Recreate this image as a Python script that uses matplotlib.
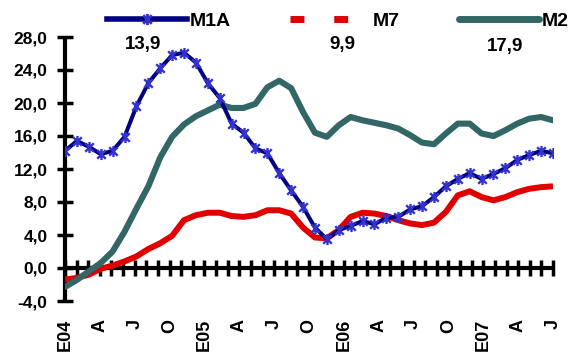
import numpy as np
import matplotlib
matplotlib.use("Agg")
import matplotlib.pyplot as plt
from matplotlib.lines import Line2D
from matplotlib.path import Path

# monthly growth rates (%), Jan 2004 - Jun 2007
m1a = [14.2, 15.4, 14.7, 13.8, 14.2, 15.9, 19.6, 22.4, 24.2, 25.8, 26.1, 24.9,
       22.4, 20.6, 17.5, 16.4, 14.5, 13.9, 11.5, 9.4, 7.4, 4.9, 3.5, 4.6,
       5.1, 5.7, 5.3, 6.1, 6.2, 7.1, 7.5, 8.6, 9.9, 10.8, 11.5, 10.8,
       11.4, 12.1, 13.1, 13.7, 14.2, 13.9]
m7 = [-1.4, -1.2, -0.8, -0.1, 0.3, 0.8, 1.4, 2.3, 3.0, 3.9, 5.8, 6.4,
      6.7, 6.7, 6.3, 6.2, 6.4, 7.0, 7.0, 6.6, 4.9, 3.7, 3.6, 4.6,
      6.2, 6.7, 6.6, 6.3, 5.8, 5.4, 5.2, 5.5, 6.8, 8.8, 9.3, 8.6,
      8.2, 8.6, 9.2, 9.6, 9.8, 9.9]
m2 = [-2.3, -1.45, -0.4, 0.6, 2.0, 4.4, 7.2, 9.9, 13.4, 15.9, 17.4, 18.4,
      19.1, 19.8, 19.4, 19.4, 19.9, 21.9, 22.7, 21.8, 18.9, 16.4, 15.9, 17.3,
      18.3, 17.9, 17.6, 17.3, 16.9, 16.1, 15.2, 15.0, 16.3, 17.5, 17.5, 16.3,
      16.0, 16.7, 17.5, 18.1, 18.3, 17.9]
series_names = ["M1A", "M7", "M2"]
month_labels = ["E04", "A", "J", "O", "E05", "A", "J", "O",
                "E06", "A", "J", "O", "E07", "A", "J"]
yticks = np.arange(-4, 29, 4)

NAVY = "#000080"
BLUE = "#3333CC"
RED = "#E00000"
TEAL = "#336666"

plt.rcParams["font.family"] = ["Liberation Sans", "DejaVu Sans"]
plt.rcParams["font.weight"] = "bold"

def comma(v):
    return f"{v:.1f}".replace(".", ",")

# excel style star marker: x with a vertical bar
star = Path([(-1, -1), (1, 1), (-1, 1), (1, -1), (0, -1.3), (0, 1.3)],
            [Path.MOVETO, Path.LINETO] * 3)

W, H = 568, 354
fig = plt.figure(figsize=(W / 100, H / 100), dpi=100)
ax = fig.add_axes([65 / W, 1 - 301 / H, (553 - 65) / W, (301 - 37) / H])

x = np.arange(len(m1a))
ax.plot(x, m7, color=RED, lw=4.3, solid_capstyle="butt", zorder=3)
ax.plot(x, m2, color=TEAL, lw=4.4, solid_capstyle="round", zorder=4)
ax.plot(x, m1a, color=NAVY, lw=2.9, marker=star, ms=8, mec=BLUE, mew=1.7, zorder=5)

ax.set_xlim(0, len(m1a) - 1)
ax.set_ylim(-4, 28)
for s in ["top", "right"]:
    ax.spines[s].set_visible(False)
ax.spines["bottom"].set_position(("data", 0))
for s in ["left", "bottom"]:
    ax.spines[s].set_linewidth(3)
    ax.spines[s].set_capstyle("butt")

ax.set_yticks(yticks)
ax.set_yticklabels([comma(v) for v in yticks])

tick_pos = np.linspace(0, len(m1a) - 1, len(m1a) + 1)
ax.set_xticks(tick_pos[::3])
ax.set_xticklabels(month_labels)
ax.set_xticks(tick_pos, minor=True)
ax.tick_params(axis="both", which="both", direction="inout", length=11, width=2.5)
ax.tick_params(axis="x", pad=31, labelrotation=90, labelsize=13)
ax.tick_params(axis="y", pad=7, labelsize=12.5)

handles = [
    Line2D([], [], color=NAVY, lw=4, marker=star, ms=8, mec=BLUE, mew=2),
    Line2D([], [], color=RED, lw=5, dashes=(2.0, 4.3), dash_capstyle="butt"),
    Line2D([], [], color=TEAL, lw=5, solid_capstyle="round"),
]
fig.legend(handles, series_names, ncol=3, loc="center left",
           bbox_to_anchor=(107 / W, 1 - 21 / H), frameon=False, fontsize=14,
           handlelength=4.1, handletextpad=0.15, columnspacing=3.05,
           borderpad=0, borderaxespad=0, numpoints=1)

# last values under the legend entries
for series, px, py in [(m1a, 143, 45), (m7, 342, 45), (m2, 505, 47)]:
    fig.text(px / W, 1 - py / H, comma(series[-1]), ha="center", va="center",
             fontsize=13.5, weight="bold")

fig.savefig("out.png", dpi=100)
